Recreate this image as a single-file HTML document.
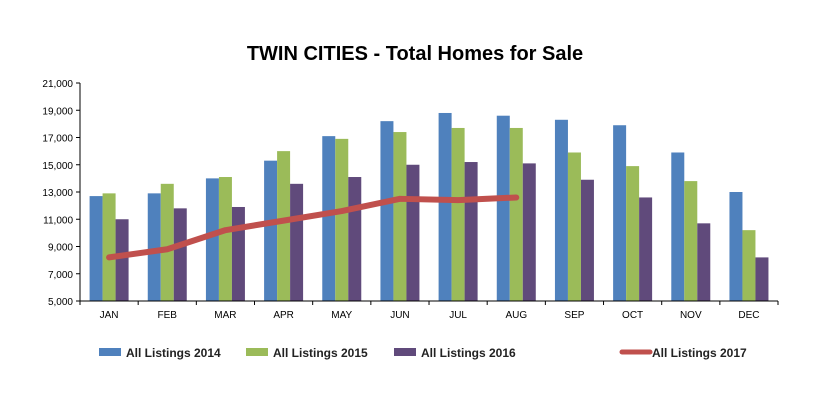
<!DOCTYPE html>
<html><head><style>body{margin:0;background:#fff}svg{display:block}</style></head><body>
<svg width="819" height="401" xmlns="http://www.w3.org/2000/svg" font-family="Liberation Sans, sans-serif">
<rect width="819" height="401" fill="#fff"/>
<text x="415" y="60" text-anchor="middle" font-size="20" font-weight="bold" fill="#000">TWIN CITIES - Total Homes for Sale</text>
<g id="bars"></g>
<g font-size="10" fill="#000" text-anchor="end" id="yl"></g>
<line x1="80" y1="83" x2="80" y2="301" stroke="#000"/>
<line x1="80" y1="301" x2="778" y2="301" stroke="#000"/>
<g id="t"></g>
<g font-size="12" font-weight="bold" fill="#222">
<rect x="99" y="348" width="22" height="8" fill="#4f81bd"/><text x="126" y="357">All Listings 2014</text>
<rect x="246" y="348" width="22" height="8" fill="#9bbb59"/><text x="273" y="357">All Listings 2015</text>
<rect x="394" y="348" width="22" height="8" fill="#604a7b"/><text x="421" y="357">All Listings 2016</text>
<line x1="622" y1="352" x2="650" y2="352" stroke="#c0504d" stroke-width="5" stroke-linecap="round"/><text x="652" y="357">All Listings 2017</text>
</g>
</svg>
<script>
const ns="http://www.w3.org/2000/svg",s=document.querySelector('svg');
function el(n,a,p,t){const e=document.createElementNS(ns,n);for(const k in a)e.setAttribute(k,a[k]);if(t)e.textContent=t;(p||s).appendChild(e);return e}
const Y=v=>301-(v-5000)*218/16000, W=58.17;
const d=[[12700,12900,14000,15300,17100,18200,18800,18600,18300,17900,15900,13000],
[12900,13600,14100,16000,16900,17400,17700,17700,15900,14900,13800,10200],
[11000,11800,11900,13600,14100,15000,15200,15100,13900,12600,10700,8200]];
const c=["#4f81bd","#9bbb59","#604a7b"],m=["JAN","FEB","MAR","APR","MAY","JUN","JUL","AUG","SEP","OCT","NOV","DEC"];
const g=document.getElementById('bars');
for(let i=0;i<12;i++){const cx=80+W*(i+.5);
for(let j=0;j<3;j++)el('rect',{x:cx-19.5+13*j,y:Y(d[j][i]),width:13,height:301-Y(d[j][i]),fill:c[j]},g);
el('text',{x:cx,y:318,'font-size':10,'text-anchor':'middle',fill:'#000'},s,m[i]);
el('line',{x1:80+W*i,y1:301,x2:80+W*i,y2:305,stroke:'#000'});}
el('line',{x1:778,y1:301,x2:778,y2:305,stroke:'#000'});
for(let v=5000;v<=21000;v+=2000){el('text',{x:73,y:Y(v)+4,'font-size':10,'text-anchor':'end',fill:'#000'},s,v.toLocaleString('en-US'));el('line',{x1:76,y1:Y(v),x2:80,y2:Y(v),stroke:'#000'});}
const l=[8200,8800,10200,10900,11600,12500,12400,12600];
el('polyline',{points:l.map((v,i)=>(80+W*(i+.5))+','+Y(v)).join(' '),fill:'none',stroke:'#c0504d','stroke-width':6,'stroke-linejoin':'round','stroke-linecap':'round'});
</script>
</body></html>
